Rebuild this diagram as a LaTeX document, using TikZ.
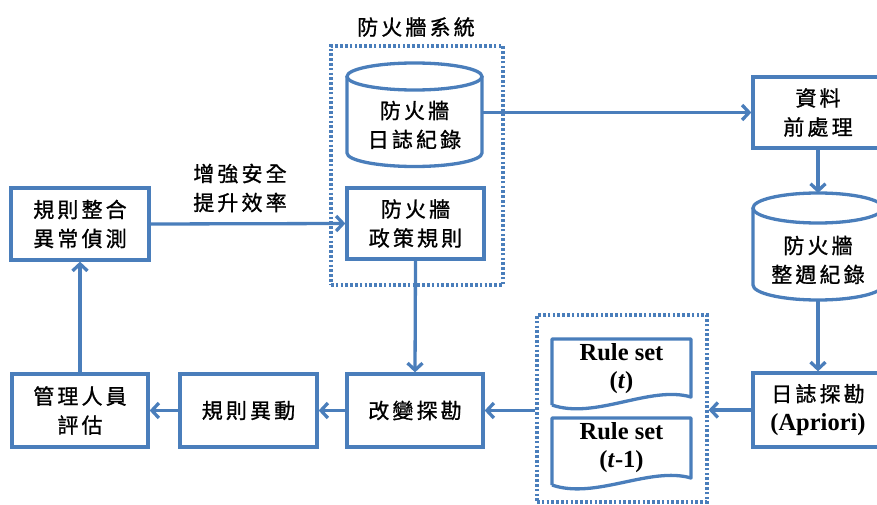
\documentclass[tikz,border=0pt]{standalone}
\usepackage{fontspec}
\setmainfont{Liberation Serif}
\newfontfamily\cjk[LetterSpace=15,FakeBold=1]{Noto Sans CJK TC}
\usetikzlibrary{arrows.meta}
\definecolor{flowblue}{HTML}{4A7EBB}
\tikzset{
  cjktext/.style={font=\cjk\fontsize{21}{29}\selectfont, align=center, inner sep=0pt},
  stepbox/.style={cjktext, draw=flowblue, line width=3.3pt, fill=white},
  cylline/.style={draw=flowblue, line width=3.3pt},
  docline/.style={draw=flowblue, line width=3.3pt, line join=round},
  groupframe/.style={draw=flowblue, line width=3.2pt, dash pattern=on 2.6pt off 2.2pt, inner sep=0pt},
  link/.style={draw=flowblue, line width=3.3pt, -{Straight Barb[length=7pt,width=15pt]}},
  ruletext/.style={font=\bfseries\fontsize{24.5}{28}\selectfont, align=center, inner sep=0pt},
}

\begin{document}
\begin{tikzpicture}[x=1pt,y=-1pt]
\useasboundingbox (0,0) rectangle (877,505);

% dotted group frames
\node[groupframe, minimum width=172pt, minimum height=239pt] (fwgroup) at (417,165.5) {};
\node[cjktext] (fwtitle) at (416,27) {防火牆系統};
\node[groupframe, minimum width=170pt, minimum height=187pt] (rsgroup) at (622,408.5) {};

% firewall log cylinder
\draw[cylline] (347,76.5) -- (347,153)
  arc[start angle=180, end angle=360, x radius=67.5pt, y radius=13.5pt] -- (482,76.5);
\draw[cylline] (414.5,76.5) ellipse [x radius=67.5pt, y radius=13.5pt];
\node[cjktext, minimum width=135pt] (fwlog) at (414.5,125) {防火牆\\日誌紀錄};

% weekly log cylinder
\draw[cylline] (753,208) -- (753,285)
  arc[start angle=180, end angle=360, x radius=65pt, y radius=15pt] -- (883,208);
\draw[cylline] (818,208) ellipse [x radius=65pt, y radius=15pt];
\node[cjktext, minimum width=130pt] (weeklog) at (818,260) {防火牆\\整週紀錄};
\coordinate (weektop) at (818,193);
\coordinate (weekbot) at (818,300);

% process boxes
\node[stepbox, minimum width=138pt, minimum height=72pt] (merge) at (80,224) {規則整合\\異常偵測};
\node[stepbox, minimum width=137pt, minimum height=71pt] (policy) at (415.5,223.5) {防火牆\\政策規則};
\node[stepbox, minimum width=130pt, minimum height=71pt] (prep) at (818,112.5) {資料\\前處理};
\node[stepbox, minimum width=130pt, minimum height=74pt] (mine) at (818,410)
  {日誌探勘\\{\rmfamily\bfseries\fontsize{24.5}{28}\selectfont (Apriori)}};
\node[stepbox, minimum width=136pt, minimum height=73pt] (admin) at (80,410.5) {管理人員\\評估};
\node[stepbox, minimum width=137pt, minimum height=73pt] (change) at (248.5,410.5) {規則異動};
\node[stepbox, minimum width=136pt, minimum height=73pt] (detect) at (415,410.5) {改變探勘};

% rule set documents
\draw[docline] (552,405) -- (552,339) -- (691,339) -- (691,397)
  .. controls (650,385) and (595,420) .. (552,405);
\node[ruletext] (rsnow) at (621.5,369) {Rule set\\(\textit{t})};
\draw[docline] (552,485) -- (552,418) -- (691,418) -- (691,478)
  .. controls (650,466) and (595,500) .. (552,485);
\node[ruletext] (rsprev) at (621.5,448) {Rule set\\(\textit{t}-1)};

% label on the feedback link
\node[cjktext] (gain) at (240,188) {增強安全\\提升效率};

% connectors
\draw[link] (fwlog.east |- prep.west) -- (prep.west);
\draw[link] (prep.south) -- (weektop);
\draw[link] (weekbot) -- (mine.north);
\draw[link] (mine.west) -- (mine.west -| rsgroup.east);
\draw[link] (rsgroup.west |- detect.east) -- (detect.east);
\draw[link] (detect.west) -- (change.east);
\draw[link] (change.west) -- (admin.east);
\draw[link] (admin.north) -- (merge.south);
\draw[link] (merge.east) -- (policy.west);
\draw[link] (policy.south) -- (detect.north);
\end{tikzpicture}
\end{document}
